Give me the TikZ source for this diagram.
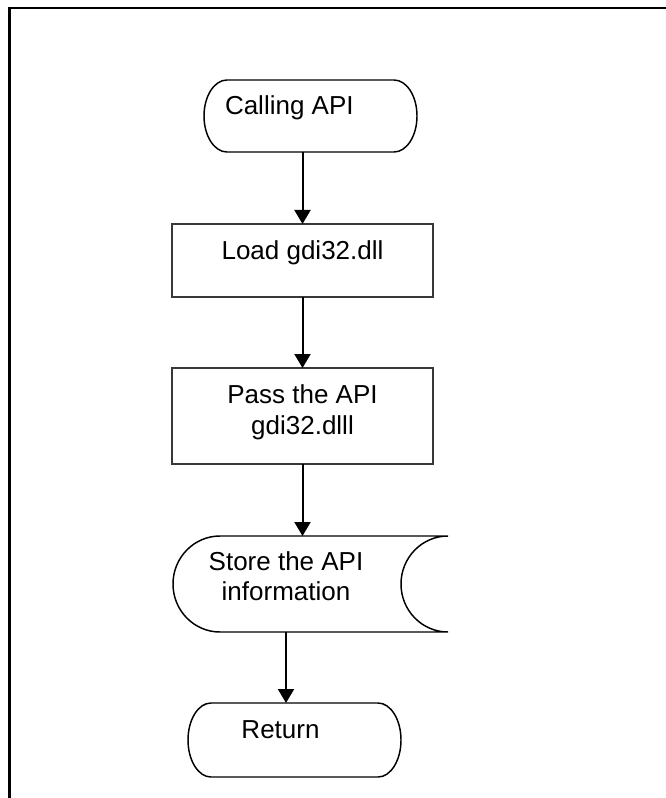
\documentclass[tikz,border=0pt]{standalone}
\usepackage{fontspec}
\setmainfont{Liberation Sans}
\usetikzlibrary{arrows.meta}

\tikzset{
  % invisible holder for a shape whose outline is drawn by hand
  holder/.style={draw=none, rectangle, inner sep=0pt, outer sep=0pt},
  procbox/.style={draw=black!78, line width=1.5pt, rectangle, inner sep=0pt, outer sep=0pt,
    minimum width=195.75pt},
  outline/.style={draw=black, line width=1.1pt},
  txt/.style={inner sep=0pt, outer sep=0pt, font=\fontsize{19.5pt}{23pt}\selectfont},
  flow/.style={draw=black, line width=1.5pt, -{Triangle[length=10.5pt,width=12pt]}},
}

\begin{document}
\begin{tikzpicture}[x=0.75pt, y=0.75pt]
  \useasboundingbox (0,0) rectangle (665,-798);

  % page frame, running off the right and bottom edges
  \draw[line width=2pt, line join=miter] (9.7,-805) -- (9.7,-8) -- (670,-8);

  % shapes
  \node[holder, minimum width=159.75pt, minimum height=54pt] (call) at (310.5,-116) {};
  \node[procbox, minimum height=54.75pt] (load) at (302.5,-260.5) {};
  \node[procbox, minimum height=72pt] (pass) at (302.5,-416) {};
  \node[holder, minimum width=206.25pt, minimum height=72pt] (store) at (310.5,-584) {};
  \node[holder, minimum width=159.75pt, minimum height=55.5pt] (ret) at (294.5,-740) {};

  % terminal outlines
  \draw[outline] ([xshift=17.25pt]call.north west) -- ([xshift=-17.25pt]call.north east)
    arc[start angle=90, end angle=-90, x radius=23, y radius=36]
    -- ([xshift=17.25pt]call.south west)
    arc[start angle=270, end angle=90, x radius=23, y radius=36] -- cycle;
  \draw[outline] ([xshift=17.25pt]ret.north west) -- ([xshift=-17.25pt]ret.north east)
    arc[start angle=90, end angle=-90, x radius=23, y radius=37]
    -- ([xshift=17.25pt]ret.south west)
    arc[start angle=270, end angle=90, x radius=23, y radius=37] -- cycle;

  % stored data outline
  \draw[outline] (store.north east) -- ([xshift=35.25pt]store.north west)
    arc[start angle=90, end angle=270, x radius=47, y radius=48]
    -- (store.south east)
    arc[start angle=270, end angle=90, x radius=47, y radius=48];

  % texts
  \node[txt, anchor=base west] (callT) at (225,-115) {Calling API};
  \node[txt, anchor=base] (loadT) at (302.5,-260) {Load gdi32.dll};
  \node[txt, anchor=base] (passT1) at (302.5,-403) {Pass the API};
  \node[txt, anchor=base] (passT2) at (302.5,-434.5) {gdi32.dlll};
  \node[txt, anchor=base] (storeT1) at (286,-570) {Store the API};
  \node[txt, anchor=base] (storeT2) at (286,-600) {information};
  \node[txt, anchor=base] (retT) at (280.5,-738) {Return};

  % connectors
  \draw[flow] (load.north |- call.south) -- (load.north);
  \draw[flow] (load.south) -- (pass.north);
  \draw[flow] (pass.south) -- (pass.south |- store.north);
  \draw[flow] (storeT2 |- store.south) -- (storeT2 |- ret.north);
\end{tikzpicture}
\end{document}
